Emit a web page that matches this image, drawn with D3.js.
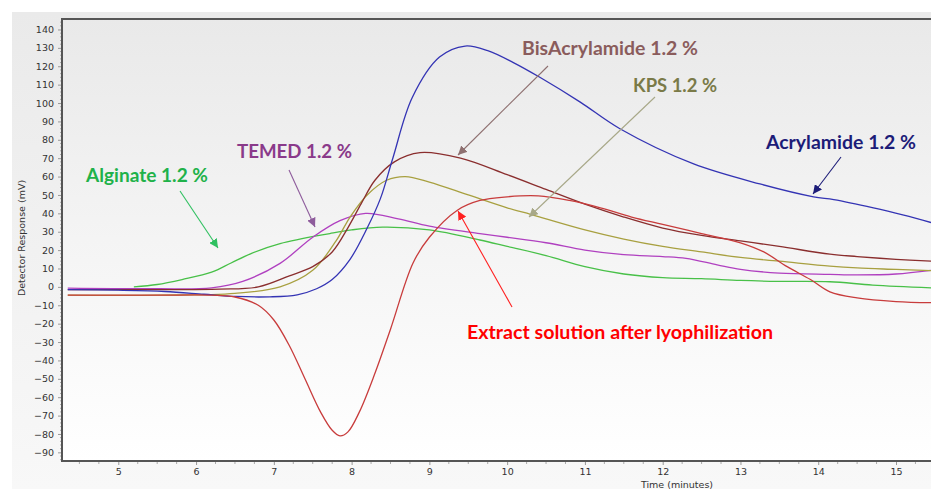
<!DOCTYPE html>
<html><head><meta charset="utf-8">
<script src="https://cdn.jsdelivr.net/npm/d3@7"></script>
<style>html,body{margin:0;padding:0;background:#fff;}svg{display:block;}</style>
</head><body>
<svg id="chart" width="931" height="489"></svg>
<script>
// ---- data (time in minutes, response in mV) ----
const xTicks = [5,6,7,8,9,10,11,12,13,14,15];
const yTicks = [-90,-80,-70,-60,-50,-40,-30,-20,-10,0,10,20,30,40,50,60,70,80,90,100,110,120,130,140];

const acrylamide = [[4.35,-1.5],[5.0,-1.8],[5.6,-2.5],[6.1,-4],[6.5,-5.2],[6.95,-5.4],[7.3,-4.3],[7.55,-1],[7.75,4],[7.98,15],[8.2,32],[8.37,48],[8.53,70],[8.78,103],[9.13,125],[9.46,131],[9.75,128.5],[10.08,122],[10.42,114],[10.94,100.5],[11.45,86],[12.39,67],[13.25,56],[13.94,49],[14.2,47.5],[14.71,43],[15.1,39],[15.45,35]];
const bisAcrylamide = [[4.35,-1.5],[5.5,-1.5],[6.3,-1.2],[6.8,0],[7.2,6],[7.5,11],[7.75,19],[7.95,32],[8.12,45],[8.3,58],[8.55,68],[8.88,73],[9.4,70],[10.0,61],[10.5,53],[11.0,45],[11.5,38],[12.0,32],[12.5,28],[13.0,25],[13.5,22],[14.15,17.8],[14.5,16.5],[15.0,15],[15.45,14]];
const kps = [[4.35,-4.5],[5.5,-4.5],[6.5,-3.5],[7.08,0],[7.5,9],[7.8,25],[7.98,38],[8.2,50],[8.45,58],[8.69,60],[9.0,57],[9.5,50],[10.0,43],[10.3,39.5],[10.5,37],[11.0,31],[11.5,26],[12.0,22],[12.5,19],[13.0,16],[13.5,14],[14.15,11.3],[14.5,10.3],[15.0,9.5],[15.45,8.8]];
const temed = [[4.35,-0.7],[5.5,-1],[6.2,-0.5],[6.6,3],[7.08,12.8],[7.5,27],[7.85,36],[8.18,40],[8.6,37],[9.0,33],[9.65,29],[10.0,27],[10.5,24],[11.0,20],[11.5,17.5],[12.0,16.5],[12.3,15.5],[12.7,12],[13.0,9.5],[13.5,7.5],[14.15,6.8],[14.5,6.5],[15.0,7],[15.45,9]];
const alginate = [[5.2,0],[5.5,1.3],[5.82,4],[6.2,8],[6.45,13],[6.7,18],[7.08,23.5],[7.72,29],[8.0,31],[8.4,32.5],[9.0,31],[9.65,25.5],[10.0,22],[10.5,17],[11.0,11],[11.5,7],[12.0,5],[12.5,4.5],[13.0,3.5],[13.5,3],[14.15,2.8],[14.7,1],[15.45,-0.5]];
const extract = [[4.35,-4.5],[5.5,-4.5],[6.2,-4.5],[6.5,-5.5],[6.8,-10],[7.0,-18],[7.2,-32],[7.4,-50],[7.6,-68],[7.75,-78],[7.85,-81],[7.95,-79],[8.1,-68],[8.3,-47],[8.5,-23],[8.79,13],[9.0,27],[9.36,41.7],[9.65,47],[10.0,49],[10.4,49.5],[10.8,47],[11.2,43],[11.6,38],[12.0,34],[12.5,29],[13.0,24],[13.3,19],[13.6,11],[13.9,4],[14.15,-2.7],[14.5,-6],[15.0,-8],[15.45,-8.6]];

const seriesNames = ["Acrylamide 1.2 %","BisAcrylamide 1.2 %","KPS 1.2 %","TEMED 1.2 %","Alginate 1.2 %","Extract solution after lyophilization"];
const seriesData = [acrylamide, bisAcrylamide, kps, temed, alginate, extract];
const lineColors = ["#3434b4","#8a2e2e","#a8a040","#b040c0","#48c048","#c83c3c"];

const labelColors = ["#1c1c78","#8a5c5c","#7a7a48","#8a3a8a","#1fb24a","#ff0000"];
const arrowColors = ["#1c1c78","#8e7070","#a8a888","#8e5c9c","#2fc060","#ff2020"];

// ---- layout ----
const W = 931, H = 489;
const plot = {left: 62, top: 19, right: 931, bottom: 461};
const svg = d3.select("#chart");

const x = d3.scaleLinear().domain([4.276, 15.45]).range([plot.left, plot.right]);
const y = d3.scaleLinear().domain([-94.7, 145.7]).range([plot.bottom, plot.top]);

const defs = svg.append("defs");
const g1 = defs.append("linearGradient").attr("id","outerGrad").attr("x1",0).attr("y1",0).attr("x2",0).attr("y2",1);
g1.append("stop").attr("offset","0%").attr("stop-color","#eaeaea");
g1.append("stop").attr("offset","100%").attr("stop-color","#f8f8f8");
const g2 = defs.append("linearGradient").attr("id","plotGrad").attr("x1",0).attr("y1",0).attr("x2",0).attr("y2",1);
g2.append("stop").attr("offset","0%").attr("stop-color","#e9e9e9");
g2.append("stop").attr("offset","100%").attr("stop-color","#ffffff");
defs.append("clipPath").attr("id","clip").append("rect")
  .attr("x",plot.left+1).attr("y",plot.top+1).attr("width",plot.right-plot.left).attr("height",plot.bottom-plot.top-2);

arrowColors.forEach((c,i)=>{
  defs.append("marker").attr("id","ah"+i).attr("viewBox","0 0 10 10").attr("refX",10).attr("refY",5)
    .attr("markerWidth",9).attr("markerHeight",9).attr("markerUnits","userSpaceOnUse").attr("orient","auto")
    .append("path").attr("d","M0,0 L10,5 L0,10 z").attr("fill",c);
});

svg.append("rect").attr("x",12).attr("y",12).attr("width",W-12).attr("height",H-12).attr("fill","url(#outerGrad)");
svg.append("rect").attr("x",plot.left).attr("y",plot.top).attr("width",plot.right-plot.left+5).attr("height",plot.bottom-plot.top).attr("fill","url(#plotGrad)");

// axes
const yAxis = d3.axisLeft(y).tickValues(yTicks).tickSize(4).tickPadding(4);
const gy = svg.append("g").attr("transform",`translate(${plot.left},0)`).call(yAxis);
gy.select(".domain").remove();
gy.selectAll("line").attr("stroke","#999");
gy.selectAll("text").attr("font-family","DejaVu Sans").attr("font-size",9.5).attr("fill","#333");
const yMinor = d3.range(-94, 146, 2).filter(v=>v%10!==0);
svg.append("g").selectAll("line").data(yMinor).join("line")
  .attr("x1",plot.left-2).attr("x2",plot.left).attr("y1",d=>y(d)).attr("y2",d=>y(d)).attr("stroke","#aaa");

const xAxis = d3.axisBottom(x).tickValues(xTicks).tickFormat(d3.format("d")).tickSize(4).tickPadding(3);
const gx = svg.append("g").attr("transform",`translate(0,${plot.bottom})`).call(xAxis);
gx.select(".domain").remove();
gx.selectAll("line").attr("stroke","#999");
gx.selectAll("text").attr("font-family","DejaVu Sans").attr("font-size",9.5).attr("fill","#333");
const xMinor = d3.range(4.5, 15.5, 0.25).filter(v=>Math.abs(v-Math.round(v))>0.01);
svg.append("g").selectAll("line").data(xMinor).join("line")
  .attr("x1",d=>x(d)).attr("x2",d=>x(d)).attr("y1",plot.bottom).attr("y2",plot.bottom+3).attr("stroke","#aaa");

svg.append("text").attr("x",677).attr("y",488).attr("text-anchor","middle")
  .attr("font-family","DejaVu Sans").attr("font-size",9.5).attr("fill","#333").text("Time (minutes)");
svg.append("text").attr("transform","translate(25,238) rotate(-90)").attr("text-anchor","middle")
  .attr("font-family","DejaVu Sans").attr("font-size",9.5).attr("fill","#333").text("Detector Response (mV)");

// frame
svg.append("path").attr("d",`M${plot.left},${plot.bottom} L${plot.left},${plot.top} L${W+5},${plot.top}`)
  .attr("fill","none").attr("stroke","#555").attr("stroke-width",2);
svg.append("line").attr("x1",plot.left-1).attr("x2",W).attr("y1",plot.bottom).attr("y2",plot.bottom)
  .attr("stroke","#555").attr("stroke-width",2);

// lines
const line = d3.line().x(d=>x(d[0])).y(d=>y(d[1])).curve(d3.curveCatmullRom.alpha(0.5));
const order = [4,3,2,1,0,5];
svg.append("g").attr("clip-path","url(#clip)").selectAll("path").data(order).join("path")
  .attr("d",i=>line(seriesData[i])).attr("fill","none").attr("stroke",i=>lineColors[i]).attr("stroke-width",1.3);

// annotations
const labelPos = [[766,149,150],[522,55,176],[633,92,84],[237,158,115],[86,182,122],[467,339,306]];
const arrowPos = [[[841,157],[813,194]],[[548,66],[458,155]],[[655,97],[529,217]],[[289,170],[315,227]],[[180,191],[218,248]],[[512,307],[458,211]]];
const ann = svg.append("g");
seriesNames.forEach((name,i)=>{
  const [ax,ay] = arrowPos[i][0], [bx,by] = arrowPos[i][1];
  ann.append("line").attr("x1",ax).attr("y1",ay).attr("x2",bx).attr("y2",by)
    .attr("stroke",arrowColors[i]).attr("stroke-width",1.1).attr("marker-end",`url(#ah${i})`);
  const [lx,ly,lw] = labelPos[i];
  ann.append("text").attr("x",lx).attr("y",ly).attr("font-family","Lato").attr("font-weight","bold")
    .attr("font-size",18).attr("fill",labelColors[i])
    .attr("textLength",lw).attr("lengthAdjust","spacingAndGlyphs").text(name);
});
</script>
</body></html>
